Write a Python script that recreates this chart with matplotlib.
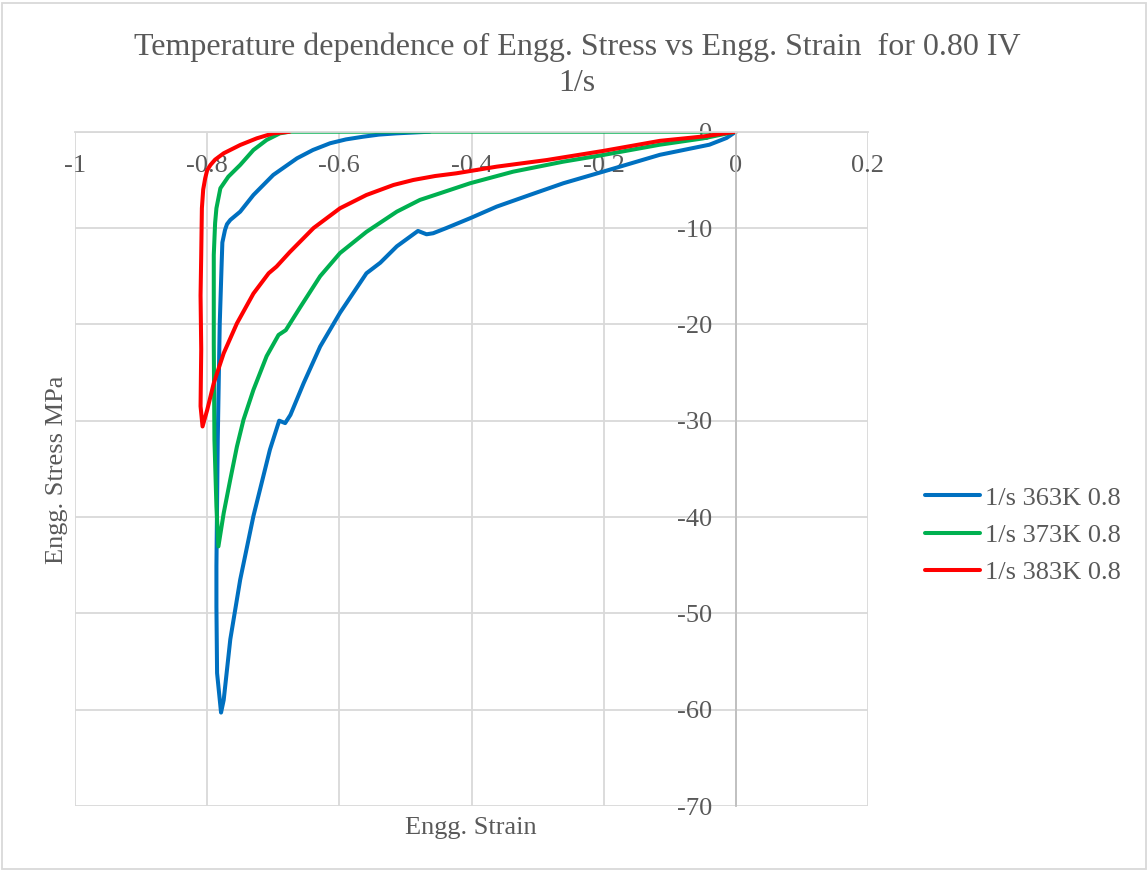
import matplotlib.pyplot as plt

plt.rcParams['font.family'] = ['Liberation Serif', 'DejaVu Serif']
plt.rcParams['axes.unicode_minus'] = False

# strain / stress loops, loading branch first, then unloading
strain_363 = [0.0, -0.014, -0.040, -0.115, -0.201, -0.261, -0.312, -0.362, -0.402, -0.438, -0.458, -0.468,
              -0.481, -0.513, -0.538, -0.559, -0.599, -0.629, -0.654, -0.674, -0.682, -0.691, -0.705,
              -0.730, -0.750, -0.765, -0.775, -0.779, -0.785, -0.786, -0.786, -0.784, -0.781, -0.778,
              -0.777, -0.773, -0.770, -0.765, -0.750, -0.730, -0.700, -0.664, -0.640, -0.614, -0.590,
              -0.564, -0.540, -0.513, -0.463]
stress_363 = [0.0, -0.65, -1.35, -2.4, -4.15, -5.35, -6.57, -7.78, -8.98, -10.0, -10.54, -10.65,
              -10.3, -11.9, -13.6, -14.7, -18.8, -22.3, -26.1, -29.4, -30.25, -30.0, -33.0,
              -39.9, -46.5, -52.7, -59.0, -60.3, -56.2, -49.3, -45.1, -32.0, -20.0, -13.5,
              -11.5, -10.2, -9.6, -9.16, -8.3, -6.57, -4.49, -2.76, -1.9, -1.2, -0.8,
              -0.52, -0.3, -0.17, 0.0]

strain_373 = [0.0, -0.050, -0.115, -0.201, -0.261, -0.337, -0.402, -0.448, -0.478, -0.513, -0.559,
              -0.599, -0.629, -0.659, -0.681, -0.692, -0.710, -0.730, -0.745, -0.755, -0.765, -0.775,
              -0.783, -0.786, -0.789, -0.790, -0.790, -0.788, -0.786, -0.780, -0.768, -0.750, -0.730,
              -0.710, -0.690, -0.675, -0.4, 0.0]
stress_373 = [0.0, -0.7, -1.35, -2.42, -3.11, -4.15, -5.35, -6.4, -7.08, -8.3, -10.4,
              -12.6, -15.0, -18.2, -20.6, -21.1, -23.3, -26.8, -29.9, -32.7, -36.1, -39.6,
              -43.05, -38.9, -32.0, -22.0, -12.8, -9.5, -7.95, -5.87, -4.67, -3.45, -1.9,
              -0.86, -0.17, 0.0, 0.0, 0.0]

strain_383 = [0.0, -0.050, -0.115, -0.201, -0.286, -0.362, -0.423, -0.455, -0.488, -0.518, -0.559,
              -0.599, -0.639, -0.675, -0.695, -0.707, -0.730, -0.755, -0.775, -0.790, -0.800, -0.807,
              -0.810, -0.809, -0.810, -0.809, -0.808, -0.806, -0.803, -0.800, -0.795, -0.788, -0.775,
              -0.750, -0.725, -0.700, -0.675]
stress_383 = [0.0, -0.5, -0.95, -2.0, -2.94, -3.63, -4.32, -4.6, -5.01, -5.53, -6.57,
              -7.95, -10.0, -12.5, -14.0, -14.7, -16.8, -19.9, -23.0, -26.1, -28.9, -30.6,
              -28.5, -22.6, -17.0, -12.8, -7.95, -6.0, -4.84, -4.0, -3.45, -2.9, -2.24,
              -1.38, -0.69, -0.17, 0.0]

labels = ['1/s 363K 0.8', '1/s 373K 0.8', '1/s 383K 0.8']
colors = ['#0070C0', '#00B050', '#FF0000']

fig = plt.figure(figsize=(11.48, 8.72), dpi=100)
ax = fig.add_axes([75 / 1148, 1 - 806 / 872, 793 / 1148, 674.3 / 872])

for xs, ys, lab, c in zip([strain_363, strain_373, strain_383],
                          [stress_363, stress_373, stress_383], labels, colors):
    ax.plot(xs, ys, color=c, lw=2.9, label=lab, solid_joinstyle='round', solid_capstyle='round')

ax.set_xlim(-1, 0.2)
ax.set_ylim(-70, 0)
ax.set_xticks([-1, -0.8, -0.6, -0.4, -0.2, 0, 0.2])
ax.set_xticklabels(['-1', '-0.8', '-0.6', '-0.4', '-0.2', '0', '0.2'])
ax.set_yticks(range(-70, 1, 10))
ax.grid(True, color='#d9d9d9', lw=1.3)
ax.set_axisbelow(True)

# axes cross at the origin, like a spreadsheet chart
ax.spines['left'].set_position(('data', 0))
ax.spines['bottom'].set_position(('data', 0))
ax.spines['left'].set_color('#bfbfbf')
ax.spines['bottom'].set_color('#d9d9d9')
ax.spines['left'].set_linewidth(1.3)
ax.spines['bottom'].set_linewidth(1.3)
ax.spines['top'].set_visible(False)
ax.spines['right'].set_visible(False)
ax.tick_params(axis='x', length=0, pad=17, labelsize=19, labelcolor='#595959')
ax.tick_params(axis='y', length=0, pad=17, labelsize=19, labelcolor='#595959')

fig.text(577 / 1148, 1 - 65 / 872, 'Temperature dependence of Engg. Stress vs Engg. Strain  for 0.80 IV\n1/s',
         ha='center', va='center', fontsize=23, color='#595959', linespacing=1.3)
fig.text(471 / 1148, 1 - 828 / 872, 'Engg. Strain', ha='center', va='center', fontsize=19, color='#595959')
fig.text(57 / 1148, 1 - 470 / 872, 'Engg. Stress MPa', ha='center', va='center', rotation=90,
         fontsize=19, color='#595959')

leg = fig.legend(loc='center left', bbox_to_anchor=(901 / 1148, 1 - 535 / 872), frameon=False,
                 fontsize=19, labelcolor='#595959', handlelength=2.1, handletextpad=0.2,
                 labelspacing=0.52)

# light frame around the chart area
fig.patches.append(plt.Rectangle((0.002, 0.003), 0.996, 0.994, transform=fig.transFigure,
                                 fill=False, edgecolor='#d9d9d9', lw=1.3))

fig.savefig('out.png', dpi=100)
